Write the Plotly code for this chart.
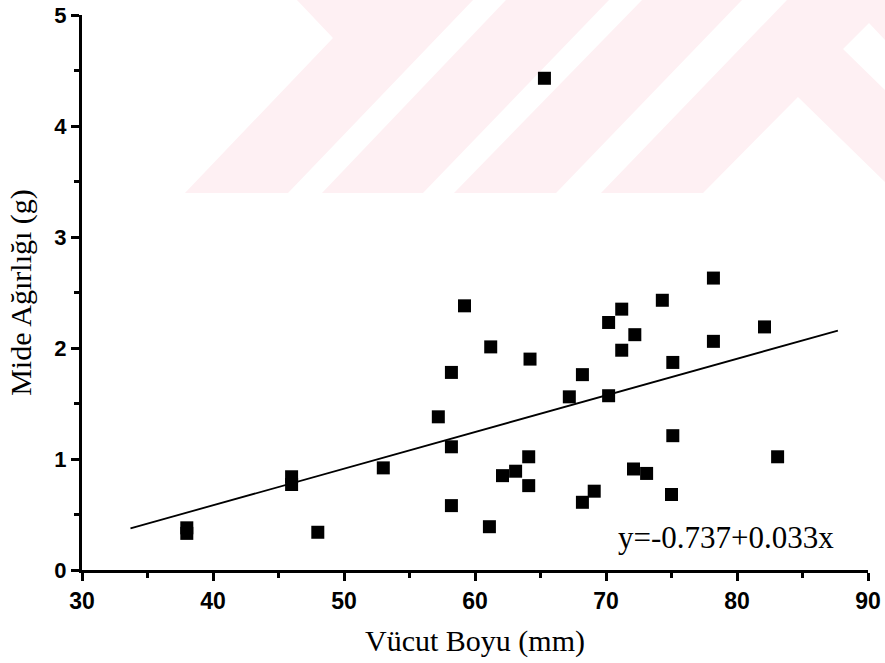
import plotly.graph_objects as go

# Body length (mm) and stomach weight (g) of each specimen
body_length = [38, 38, 46, 46, 48, 53, 57.2, 58.2, 58.2, 58.2, 59.2, 61.2, 61.1,
               62.1, 63.1, 64.2, 64.1, 64.1, 65.3, 67.2, 68.2, 68.2, 69.1, 70.2,
               70.2, 71.2, 71.2, 72.2, 72.1, 73.1, 74.3, 75.1, 75.1, 75.0, 78.2,
               78.2, 82.1, 83.1]
stomach_weight = [0.33, 0.38, 0.77, 0.84, 0.34, 0.92, 1.38, 1.78, 1.11, 0.58, 2.38,
                  2.01, 0.39, 0.85, 0.89, 1.90, 1.02, 0.76, 4.43, 1.56, 1.76, 0.61,
                  0.71, 2.23, 1.57, 2.35, 1.98, 2.12, 0.91, 0.87, 2.43, 1.87, 1.21,
                  0.68, 2.63, 2.06, 2.19, 1.02]

# Linear fit y = a + b*x and the span it is drawn over
fit_intercept = -0.737
fit_slope = 0.033
fit_x = [33.7, 87.7]
fit_y = [fit_intercept + fit_slope * v for v in fit_x]
fit_label = "y=-0.737+0.033x"

x_ticks = [30, 40, 50, 60, 70, 80, 90]
y_ticks = [0, 1, 2, 3, 4, 5]

W, H = 885, 663
L, R, T, B = 82, 17, 15, 93
PW, PH = W - L - R, H - T - B


def px(xp, yp):
    """pixel position -> paper coordinates"""
    return (xp - L) / PW, (H - B - yp) / PH


def poly(points):
    parts = []
    for i, (a, b) in enumerate(points):
        u, v = px(a, b)
        parts.append(("M" if i == 0 else "L") + f"{u:.4f},{v:.4f}")
    return " ".join(parts) + " Z"


# faint diagonal background bands
band_color = "rgb(254,240,243)"
bands = [
    [(297, 0), (473, 0), (288, 193), (185, 193), (333, 38)],
    [(506, 0), (609, 0), (423, 193), (322, 193)],
    [(642, 0), (742, 0), (556, 193), (454, 193)],
    [(787, 0), (885, 0), (885, 40), (869, 23), (843, 49), (885, 90),
     (885, 182), (798, 97), (703, 193), (601, 193)],
]
shapes = [dict(type="path", xref="paper", yref="paper", path=poly(p),
               fillcolor=band_color, line=dict(width=0), layer="below")
          for p in bands]

fig = go.Figure()
fig.add_trace(go.Scatter(
    x=fit_x, y=fit_y, mode="lines",
    line=dict(color="black", width=1.8), hoverinfo="skip", showlegend=False))
fig.add_trace(go.Scatter(
    x=body_length, y=stomach_weight, mode="markers",
    marker=dict(symbol="square", size=13, color="black",
                line=dict(width=0)),
    showlegend=False))

u0, v0 = px(616, 537)
fig.add_annotation(
    x=u0, y=v0, xref="paper", yref="paper", text=fit_label,
    showarrow=False, xanchor="left", yanchor="middle",
    font=dict(family="Liberation Serif, Times New Roman, serif", size=31,
              color="black"))

axis_common = dict(
    showgrid=False, zeroline=False, showline=True, linecolor="black",
    linewidth=3, ticks="outside", tickcolor="black", tickwidth=2.5,
    ticklen=8, mirror=False, automargin=False,
)

fig.update_layout(
    template="none",
    width=W, height=H,
    margin=dict(l=L, r=R, t=T, b=B, autoexpand=False),
    paper_bgcolor="white", plot_bgcolor="rgba(0,0,0,0)",
    shapes=shapes,
    xaxis=dict(
        range=[30, 90], tickvals=x_ticks,
        ticktext=[str(v) for v in x_ticks],
        minor=dict(ticks="outside", dtick=5, tick0=30, ticklen=5,
                   tickwidth=2.5, tickcolor="black"),
        tickfont=dict(family="Liberation Sans, Arial, sans-serif", size=23,
                      color="black", weight="bold"),
        title=dict(text="Vücut Boyu (mm)", standoff=18,
                   font=dict(family="Liberation Serif, Times New Roman, serif",
                             size=30, color="black")),
        **axis_common),
    yaxis=dict(
        range=[0, 5], tickvals=y_ticks,
        ticktext=[str(v) for v in y_ticks],
        minor=dict(ticks="outside", dtick=0.5, tick0=0, ticklen=5,
                   tickwidth=2.5, tickcolor="black"),
        tickfont=dict(family="Liberation Sans, Arial, sans-serif", size=22,
                      color="black", weight="bold"),
        title=dict(text="Mide Ağırlığı (g)", standoff=14,
                   font=dict(family="Liberation Serif, Times New Roman, serif",
                             size=30, color="black")),
        **axis_common),
)

fig.write_html("out.html")
